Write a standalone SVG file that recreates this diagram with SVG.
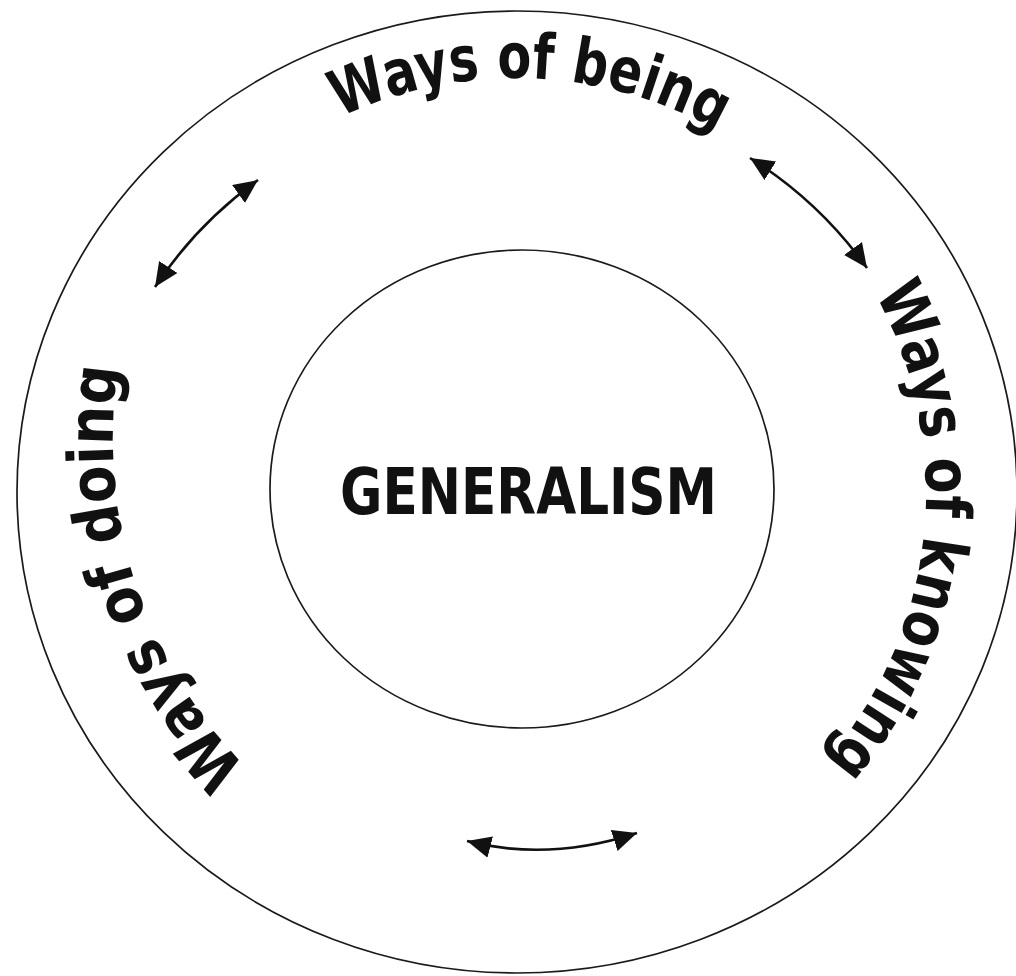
<svg xmlns="http://www.w3.org/2000/svg" width="1016" height="976" viewBox="0 0 1016 976">
<style>
.ring{fill:none;stroke:#1a1a1a;stroke-width:1.7}
.lbl{font-family:"DejaVu Sans","Liberation Sans",sans-serif;font-weight:bold;font-size:63px;fill:#111}
.center{font-family:"DejaVu Sans","Liberation Sans",sans-serif;font-weight:bold;font-size:64px;fill:#111}
.conn{fill:none;stroke:#111;stroke-width:2.6;marker-start:url(#ah);marker-end:url(#ah)}
</style>
<defs>
<marker id="ah" markerUnits="userSpaceOnUse" markerWidth="26" markerHeight="24" refX="24" refY="11" orient="auto-start-reverse" viewBox="0 0 26 24"><path d="M0,0 L24,11 L0,22 z" fill="#111"/></marker>
<path id="pTop" d="M168.3,270.7 A410,410 0 0 1 878,295.5"/>
<path id="pRight" d="M757,160.3 A410,410 0 0 1 682.8,866.5"/>
<path id="pLeft" d="M489.3,899 A468,468 0 0 1 229.4,131.1"/>
</defs>
<rect width="1016" height="976" fill="#fff"/>
<g id="outer-ring">
<ellipse class="ring" cx="517" cy="492" rx="500" ry="481"/>
</g>
<g id="generalism">
<ellipse class="ring" cx="522" cy="489" rx="252" ry="239"/>
<text class="center" x="528.5" y="514" text-anchor="middle" textLength="377" lengthAdjust="spacingAndGlyphs">GENERALISM</text>
</g>
<g id="ways-of-being">
<text class="lbl"><textPath href="#pTop" startOffset="50%" text-anchor="middle" textLength="392" lengthAdjust="spacingAndGlyphs">Ways of being</textPath></text>
</g>
<g id="ways-of-knowing">
<text class="lbl"><textPath href="#pRight" startOffset="50%" text-anchor="middle" textLength="500" lengthAdjust="spacingAndGlyphs">Ways of knowing</textPath></text>
</g>
<g id="ways-of-doing">
<text class="lbl"><textPath href="#pLeft" startOffset="50.8%" text-anchor="middle" textLength="436" lengthAdjust="spacingAndGlyphs">Ways of doing</textPath></text>
</g>
<g id="connectors">
<path class="conn" d="M155,287 A415,415 0 0 1 258,180"/>
<path class="conn" d="M750,158 A415,415 0 0 1 867,268"/>
<path class="conn" d="M467,841 Q548,862 637,833"/>
</g>
</svg>
